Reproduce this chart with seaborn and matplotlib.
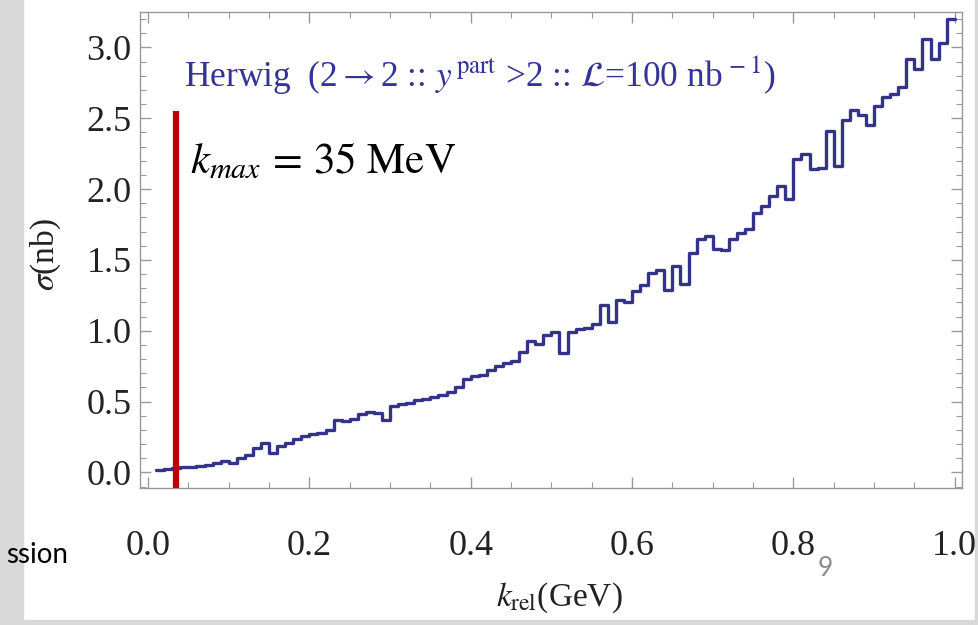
import numpy as np
import pandas as pd
import matplotlib
matplotlib.use("Agg")
import matplotlib.pyplot as plt
import seaborn as sns
from matplotlib.ticker import MultipleLocator
from matplotlib.patches import Rectangle

# histogram bins (GeV) and cross section per bin (nb)
bin_edges = np.round(np.arange(0.01, 1.0001, 0.01), 2)
sigma = [
    0.02, 0.025, 0.03, 0.035, 0.04, 0.045, 0.05, 0.065, 0.08, 0.07,
    0.10, 0.12, 0.17, 0.21, 0.14, 0.19, 0.21, 0.235, 0.26, 0.27,
    0.28, 0.30, 0.37, 0.36, 0.38, 0.41, 0.43, 0.42, 0.37, 0.47,
    0.48, 0.49, 0.51, 0.52, 0.53, 0.55, 0.57, 0.60, 0.66, 0.68,
    0.69, 0.72, 0.75, 0.77, 0.79, 0.85, 0.93, 0.91, 0.97, 0.99,
    0.84, 0.99, 1.01, 1.02, 1.05, 1.18, 1.06, 1.22, 1.20, 1.28,
    1.32, 1.41, 1.43, 1.29, 1.46, 1.33, 1.55, 1.65, 1.67, 1.58,
    1.57, 1.65, 1.69, 1.72, 1.83, 1.88, 1.95, 2.02, 1.93, 2.21,
    2.25, 2.14, 2.15, 2.41, 2.16, 2.49, 2.56, 2.52, 2.45, 2.59,
    2.65, 2.67, 2.72, 2.92, 2.85, 3.06, 2.92, 3.03, 3.20,
]
k_max = 0.035
k_max_top = 2.55

title_txt = r"Herwig  (2$\rightarrow$2 :: $y^{\,\rm part}$ >2 :: $\mathcal{L}$=100 nb$^{\,-1}$)"
kmax_txt = r"$k_{max}\,=\,35\ \mathrm{MeV}$"

df = pd.DataFrame({"k": bin_edges, "sigma": sigma + [sigma[-1]]})

sns.set_style("ticks")
plt.rcParams["font.family"] = ["Liberation Serif", "DejaVu Serif"]
plt.rcParams["mathtext.fontset"] = "stix"

fig = plt.figure(figsize=(9.79, 6.25), dpi=100)
fig.patch.set_facecolor("white")
grey = "#d9d9d9"
for r in [(0, 0, 23 / 979, 1), (975 / 979, 0, 4 / 979, 1), (0, 0, 1, 5 / 625)]:
    fig.patches.append(Rectangle(r[:2], r[2], r[3], transform=fig.transFigure,
                                 color=grey, zorder=-10))

ax = fig.add_axes([140 / 979, 1 - 488 / 625, 822 / 979, 476 / 625])

sns.lineplot(data=df, x="k", y="sigma", drawstyle="steps-post",
             color="#33338a", linewidth=2.4, ax=ax)
ax.vlines(k_max, -0.11, k_max_top, color="#c00000", linewidth=4.5, zorder=3)

ax.set_xlim(-0.01, 1.009)
ax.set_ylim(-0.11, 3.25)
ax.xaxis.set_major_locator(MultipleLocator(0.2))
ax.xaxis.set_minor_locator(MultipleLocator(0.05))
ax.yaxis.set_major_locator(MultipleLocator(0.5))
ax.yaxis.set_minor_locator(MultipleLocator(0.1))
ax.tick_params(which="both", direction="in", top=True, right=True,
               color="#999999", labelsize=26, labelcolor="#222222")
ax.tick_params(which="major", length=8, width=1)
ax.tick_params(which="minor", length=4, width=0.8)
ax.tick_params(axis="x", which="major", pad=30)
ax.tick_params(axis="y", which="major", pad=6)
for s in ax.spines.values():
    s.set_color("#999999")
    s.set_linewidth(1.0)

ax.set_xlabel(r"$k_{\rm rel}$(GeV)", fontsize=24, color="#222222")
ax.set_ylabel(r"$\sigma$(nb)", fontsize=24, color="#222222")
ax.xaxis.set_label_coords(0.51, -0.195)
ax.yaxis.set_label_coords(-0.094, 0.49)

ax.text(0.054, 0.865, title_txt, transform=ax.transAxes, fontsize=25.5,
        color="#333399", va="center")
ax.text(0.061, 0.684, kmax_txt, transform=ax.transAxes, fontsize=31,
        color="black", va="center")

fig.text(68 / 979, 1 - 555 / 625, "ssion", fontsize=20, family="Lato",
         ha="right", va="center", color="black")
fig.text(818 / 979, 1 - 568 / 625, "9", fontsize=19, family="Lato",
         ha="left", va="center", color="#8c8c8c")

fig.savefig("out.png", dpi=100, facecolor=fig.get_facecolor())
